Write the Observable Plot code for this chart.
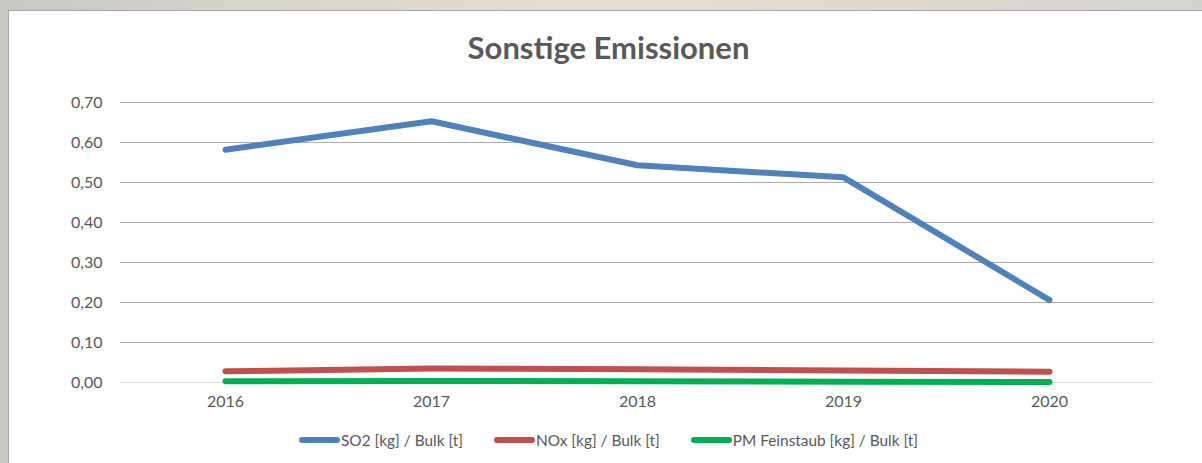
<!DOCTYPE html>
<html>
<head>
<meta charset="utf-8">
<script src="https://cdn.jsdelivr.net/npm/d3@7"></script>
<script src="https://cdn.jsdelivr.net/npm/@observablehq/plot@0.6"></script>
<style>
  html, body { margin: 0; padding: 0; width: 1202px; height: 463px; overflow: hidden; }
  body { background: linear-gradient(90deg, #c8c8c1 0%, #d9d6cc 25%, #e3ded3 50%, #ddd9cf 75%, #d3d3cd 100%); position: relative; font-family: Lato, "Open Sans", sans-serif; }
  #frame { position: absolute; left: 8px; top: 10px; width: 1193px; height: 452px; background: #fff; border-top: 1px solid #a6a6a6; border-left: 1px solid #a6a6a6; }
  #title { height: 72px; line-height: 72px; text-align: center; font-size: 31px; font-weight: bold; color: #595959; padding-left: 6px; }
  #legend { display: flex; justify-content: center; align-items: center; height: 36px; font-size: 15.4px; color: #595959; gap: 31px; padding-left: 6px; }
  .item { display: flex; align-items: center; }
  .sw { width: 41px; height: 6px; border-radius: 3px; margin-right: 1px; }
  svg { display: block; }
</style>
</head>
<body>
<div id="frame">
  <div id="title">Sonstige Emissionen</div>
  <div id="chart"></div>
  <div id="legend"></div>
</div>
<script>
const years = ["2016", "2017", "2018", "2019", "2020"];
const seriesNames = ["SO2 [kg] / Bulk [t]", "NOx [kg] / Bulk [t]", "PM Feinstaub [kg] / Bulk [t]"];
const so2 = [0.582, 0.653, 0.543, 0.513, 0.206];
const nox = [0.028, 0.035, 0.033, 0.030, 0.027];
const pm = [0.003, 0.004, 0.003, 0.002, 0.001];
const colors = ["#4f81bd", "#c0504d", "#00b050"];
const yTicks = [0, 0.1, 0.2, 0.3, 0.4, 0.5, 0.6, 0.7];

const seriesValues = [so2, nox, pm];
const data = seriesNames.flatMap((s, i) => years.map((y, j) => ({series: s, year: y, value: seriesValues[i][j]})));

const fmt = d => d3.format(".2f")(d).replace(".", ",");

const chart = Plot.plot({
  width: 1193,
  height: 339,
  marginLeft: 111,
  marginRight: 49,
  marginTop: 19,
  marginBottom: 40,
  style: { fontFamily: "Lato, 'Open Sans', sans-serif", fontSize: "16px", color: "#595959", background: "transparent" },
  x: { type: "point", domain: years, padding: 0.5, label: null, tickSize: 0, tickPadding: 13 },
  y: { domain: [0, 0.7], ticks: yTicks, tickFormat: fmt, label: null, tickSize: 0, tickPadding: 18 },
  color: { domain: seriesNames, range: colors },
  marks: [
    Plot.ruleY(yTicks.filter(d => d > 0), { stroke: "#ababab", strokeWidth: 1 }),
    Plot.ruleY([0], { stroke: "#d9d9d9", strokeWidth: 1 }),
    Plot.line(data, { x: "year", y: "value", z: "series", stroke: "series", strokeWidth: 6, strokeLinecap: "round", strokeLinejoin: "round" })
  ]
});
document.getElementById("chart").appendChild(chart);

const legend = document.getElementById("legend");
seriesNames.forEach((s, i) => {
  const it = document.createElement("div");
  it.className = "item";
  const sw = document.createElement("div");
  sw.className = "sw";
  sw.style.background = colors[i];
  const t = document.createElement("span");
  t.textContent = s;
  it.appendChild(sw); it.appendChild(t);
  legend.appendChild(it);
});
</script>
</body>
</html>
